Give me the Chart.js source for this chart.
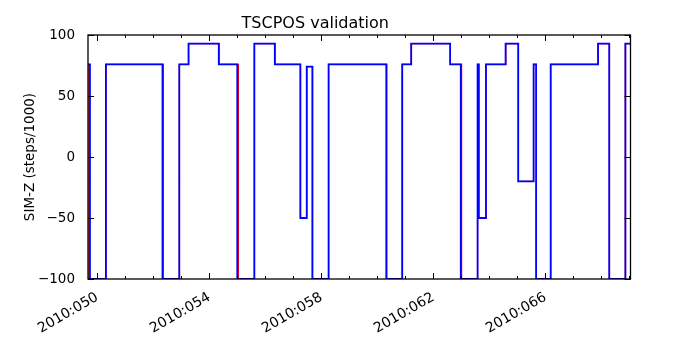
<!DOCTYPE html>
<html><head><meta charset="utf-8">
<script src="https://cdn.jsdelivr.net/npm/chart.js@4"></script>
<style>html,body{margin:0;padding:0;background:#fff}#wrap{width:700px;height:350px}</style>
</head><body><div id="wrap"><canvas id="c" width="700" height="350"></canvas></div>
<script>
// x values are day-of-year 2010 (fractional), y values SIM-Z in steps/1000
const xMin = 49.67;
const xMax = 69.04;
const majorDays = [50, 54, 58, 62, 66];
const majorLabels = ['2010:050', '2010:054', '2010:058', '2010:062', '2010:066'];
const minorDays = [50,51,52,53,54,55,56,57,58,59,60,61,62,63,64,65,66,67,68,69];
const yTicks = [-100, -50, 0, 50, 100];

const blueDays = [49.67, 49.74, 50.31, 52.33, 52.93, 53.26, 54.34, 55.00, 55.61, 56.34,
                  57.25, 57.48, 57.68, 58.26, 60.32, 60.89, 61.21, 62.60, 62.98, 63.58,
                  63.62, 63.88, 64.58, 65.03, 65.58, 65.67, 66.19, 67.88, 68.28, 68.86, 69.04];
const blueSimZ = [76, -100, 76, -100, 76, 93, 76, -100, 93, 76,
                  -50, 74, -100, 76, -100, 76, 93, 76, -100, 76,
                  -50, 76, 93, -20, 76, -100, 76, 93, -100, 93, 93];

const redDays = [49.67, 49.70, 50.31, 52.36, 52.93, 53.26, 54.35, 55.04, 55.61, 56.35,
                 57.26, 57.48, 57.69, 58.26, 60.34, 60.89, 61.21, 62.61, 63.01, 63.58,
                 63.63, 63.88, 64.59, 65.04, 65.58, 65.68, 66.19, 67.89, 68.29, 68.85, 69.04];
const redSimZ = [76, -100, 76, -100, 76, 93, 76, -100, 93, 76,
                 -50, 74, -100, 76, -100, 76, 93, 76, -100, 76,
                 -50, 76, 93, -20, 76, -100, 76, 93, -100, 93, 93];

const FONT = 'DejaVu Sans';
Chart.defaults.font.family = FONT;
Chart.defaults.color = '#000';

const toPts = (xs, ys) => xs.map((x, i) => ({x: x, y: ys[i]}));

const framePlugin = {
  id: 'frame',
  afterDatasetsDraw(chart) {
    const {ctx, chartArea: a, scales: {x, y}} = chart;
    ctx.save();
    ctx.strokeStyle = '#000';
    ctx.lineWidth = 1;
    minorDays.forEach(d => {
      const px = Math.round(x.getPixelForValue(d)) + 0.5;
      const len = majorDays.includes(d) ? 6 : 3;
      ctx.beginPath();
      ctx.moveTo(px, a.bottom); ctx.lineTo(px, a.bottom - len);
      ctx.moveTo(px, a.top); ctx.lineTo(px, a.top + len);
      ctx.stroke();
    });
    yTicks.forEach(v => {
      const py = Math.round(y.getPixelForValue(v)) + 0.5;
      ctx.beginPath();
      ctx.moveTo(a.left, py); ctx.lineTo(a.left + 6, py);
      ctx.moveTo(a.right, py); ctx.lineTo(a.right - 6, py);
      ctx.stroke();
    });
    ctx.lineWidth = 1.3;
    ctx.strokeRect(a.left, a.top, a.right - a.left, a.bottom - a.top);
    ctx.restore();
  }
};

new Chart(document.getElementById('c'), {
  type: 'line',
  data: {
    datasets: [
      {label: 'telemetry', data: toPts(blueDays, blueSimZ), borderColor: '#0000ff',
       borderWidth: 1.8, stepped: true, pointRadius: 0, fill: false, order: 0},
      {label: 'predicted', data: toPts(redDays, redSimZ), borderColor: '#ff0000',
       borderWidth: 1.2, stepped: true, pointRadius: 0, fill: false, order: 1}
    ]
  },
  options: {
    responsive: false,
    animation: false,
    devicePixelRatio: 1,
    layout: {padding: {left: 0, right: 69.5, top: 0, bottom: 0}},
    plugins: {
      legend: {display: false},
      tooltip: {enabled: false},
      title: {display: true, text: 'TSCPOS validation', color: '#000',
              font: {family: FONT, size: 16, weight: 'normal'},
              padding: {top: 14, bottom: 1.8}}
    },
    scales: {
      x: {
        type: 'linear', min: xMin, max: xMax,
        grid: {display: false}, border: {display: false},
        afterBuildTicks: s => { s.ticks = majorDays.map(v => ({value: v})); },
        afterFit: s => { s.height = 71; },
        ticks: {
          autoSkip: false, minRotation: 30, maxRotation: 30, padding: 2,
          font: {family: FONT, size: 14},
          callback: v => majorLabels[majorDays.indexOf(v)] || ''
        }
      },
      y: {
        min: -100, max: 100,
        grid: {display: false}, border: {display: false},
        afterBuildTicks: s => { s.ticks = yTicks.map(v => ({value: v})); },
        afterFit: s => { s.width = 88; },
        ticks: {
          padding: 5, font: {family: FONT, size: 13.5},
          callback: v => String(v).replace('-', '\u2212')
        },
        title: {display: true, text: 'SIM-Z (steps/1000)', color: '#000',
                font: {family: FONT, size: 13.5}, padding: {top: 22, bottom: 0}}
      }
    }
  },
  plugins: [framePlugin]
});
</script>
</body></html>
